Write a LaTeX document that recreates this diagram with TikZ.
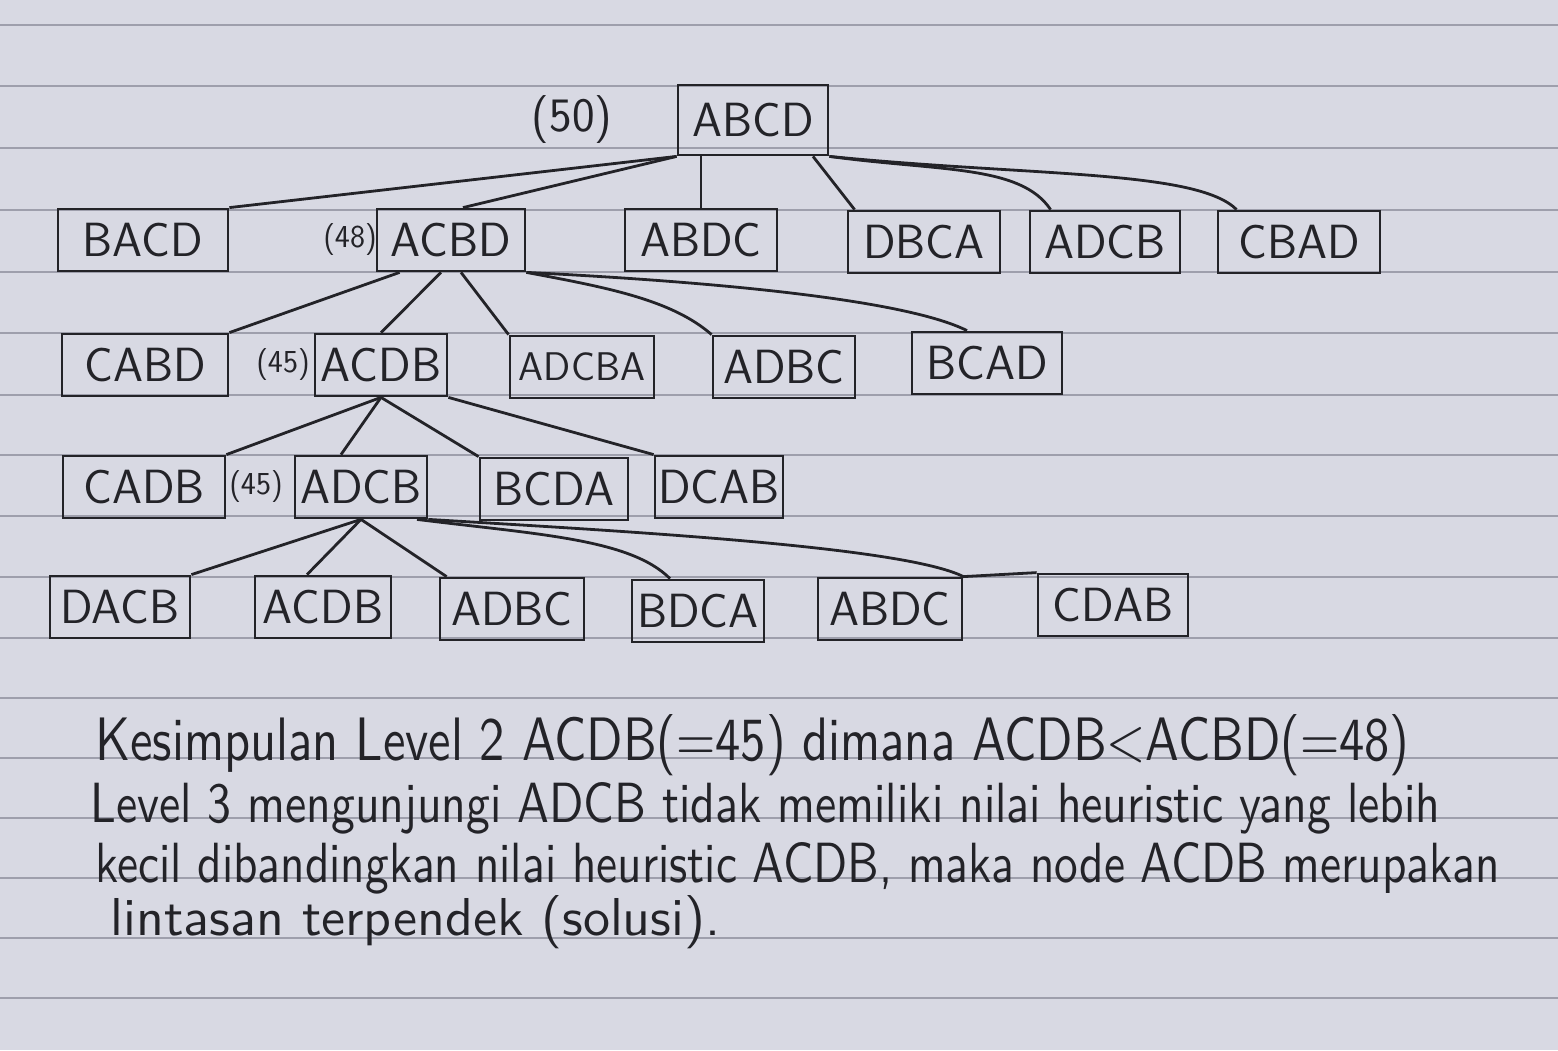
\documentclass[tikz,border=0pt]{standalone}
\usepackage{graphicx}
\definecolor{paper}{RGB}{216,217,227}
\definecolor{ruling}{RGB}{158,159,172}
\definecolor{ink}{RGB}{35,35,40}
\tikzset{
  perm/.style = {draw = ink, line width = 1.4pt, inner sep = 0pt, minimum height = 31pt,
                 text = ink, font = \sffamily\fontsize{24}{24}\selectfont},
  cost/.style = {text = ink, inner sep = 0pt, font = \sffamily\fontsize{16}{16}\selectfont},
  link/.style = {draw = ink, line width = 1.4pt},
  note/.style = {text = ink, inner sep = 0pt, anchor = base west, font = \sffamily}
}

\begin{document}
\begin{tikzpicture}[x = 0.5pt, y = -0.5pt]
      \useasboundingbox (0,0) rectangle (1558,1050);
      \fill[paper] (0,0) rectangle (1558,1050);
      \foreach \y in {25,86,148,210,272,333,395,455,516,577,638,698,758,818,878,938,998}
        \draw[ruling, line width = 0.6pt] (0,\y) -- (1558,\y);

      % root
      \node[perm, minimum width = 75pt, minimum height = 35pt] (abcd) at (753,120) {ABCD};
      \node[cost, font = \sffamily\fontsize{24}{24}\selectfont] (c0) at (572,120) {(50)};
      % level 1
      \node[perm, minimum width = 85pt] (bacd1) at (143,240) {BACD};
      \node[perm, minimum width = 74pt] (acbd1) at (451,240) {ACBD};
      \node[perm, minimum width = 76pt] (abdc1) at (701,240) {ABDC};
      \node[perm, minimum width = 76pt] (dbca1) at (924,242) {DBCA};
      \node[perm, minimum width = 75pt] (adcb1) at (1105,242) {ADCB};
      \node[perm, minimum width = 81pt] (cbad1) at (1299,242) {CBAD};
      \node[cost] (c1) at (350,240) {(48)};
      % level 2
      \node[perm, minimum width = 83pt] (cabd2) at (145,365) {CABD};
      \node[perm, minimum width = 66pt] (acdb2) at (381,365) {ACDB};
      \node[perm, minimum width = 72pt, font = \sffamily\fontsize{20}{20}\selectfont] (adcba2) at (582,367) {ADCBA};
      \node[perm, minimum width = 71pt] (adbc2) at (784,367) {ADBC};
      \node[perm, minimum width = 75pt] (bcad2) at (987,363) {BCAD};
      \node[cost] (c2) at (283,365) {(45)};
      % level 3
      \node[perm, minimum width = 81pt] (cadb3) at (144,487) {CADB};
      \node[perm, minimum width = 66pt] (adcb3) at (361,487) {ADCB};
      \node[perm, minimum width = 74pt] (bcda3) at (554,489) {BCDA};
      \node[perm, minimum width = 64pt] (dcab3) at (719,487) {DCAB};
      \node[cost] (c3) at (256,487) {(45)};
      % level 4
      \node[perm, minimum width = 70pt] (dacb4) at (120,607) {DACB};
      \node[perm, minimum width = 68pt] (acdb4) at (323,607) {ACDB};
      \node[perm, minimum width = 72pt] (adbc4) at (512,609) {ADBC};
      \node[perm, minimum width = 66pt] (bdca4) at (698,611) {BDCA};
      \node[perm, minimum width = 72pt] (abdc4) at (890,609) {ABDC};
      \node[perm, minimum width = 75pt] (cdab4) at (1113,605) {CDAB};

      \path[link] (abcd.south west) edge (bacd1.north east)
                  (abcd.south west) edge ([xshift = 6pt]acbd1.north)
                  (abdc1.north |- abcd.south) edge (abdc1.north)
                  ([xshift = 30pt]abcd.south) edge ([xshift = 4pt]dbca1.north west);
      \draw[link] (abcd.south east) .. controls +(110,15) and +(-30,-45) .. ([xshift = 11pt]adcb1.north west);
      \draw[link] (abcd.south east) .. controls +(200,20) and +(-40,-40) .. ([xshift = 10pt]cbad1.north west);

      \path[link] ([xshift = 12pt]acbd1.south west) edge (cabd2.north east)
                  ([xshift = -5pt]acbd1.south) edge (acdb2.north)
                  ([xshift = 5pt]acbd1.south) edge (adcba2.north west);
      \draw[link] (acbd1.south east) .. controls +(80,15) and +(-40,-35) .. (adbc2.north west);
      \draw[link] (acbd1.south east) .. controls +(200,10) and +(-60,-30) .. ([xshift = -10pt]bcad2.north);

      \path[link] (acdb2.south) edge (cadb3.north east)
                  (acdb2.south) edge ([xshift = -10pt]adcb3.north)
                  (acdb2.south) edge (bcda3.north west)
                  (acdb2.south east) edge (dcab3.north west);

      \path[link] (adcb3.south) edge (dacb4.north east)
                  (adcb3.south) edge ([xshift = -8pt]acdb4.north)
                  (adcb3.south) edge ([xshift = 4pt]adbc4.north west);
      \draw[link] ([xshift = 28pt]adcb3.south) .. controls +(120,15) and +(-40,-40) .. ([xshift = -14pt]bdca4.north);
      \draw[link] (adcb3.south east) .. controls +(200,12) and +(-60,-30) .. (abdc4.north east) -- (cdab4.north west);

      % conclusion
      \node[note] (t1) at (95,760) {\resizebox{657pt}{23pt}{Kesimpulan Level 2 ACDB(=45) dimana ACDB<ACBD(=48)}};
      \node[note] (t2) at (90,822) {\resizebox{675pt}{20pt}{Level 3 mengunjungi ADCB tidak memiliki nilai heuristic yang lebih}};
      \node[note] (t3) at (95,882) {\resizebox{702pt}{20pt}{kecil dibandingkan nilai heuristic ACDB, maka node ACDB merupakan}};
      \node[note] (t4) at (110,935) {\resizebox{305pt}{20pt}{lintasan terpendek (solusi).}};
\end{tikzpicture}
\end{document}
